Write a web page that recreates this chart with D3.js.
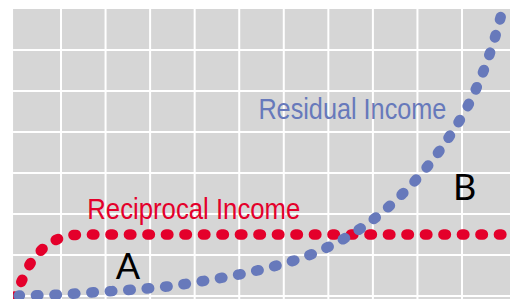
<!DOCTYPE html>
<html>
<head>
<meta charset="utf-8">
<script src="https://cdn.jsdelivr.net/npm/d3@7"></script>
<style>
  html, body { margin: 0; padding: 0; background: #fff; }
  svg { display: block; }
</style>
</head>
<body>
<svg id="chart"></svg>
<script>
// series (x = grid columns, y = grid rows)
const reciprocalX = [-0.05, 0.12, 0.30, 0.56, 0.91, 1.31, 2.0, 11.1];
const reciprocalY = [-0.04, 0.37, 0.77, 1.12, 1.38, 1.49, 1.5, 1.5];

const residualX = [0.05, 0.89, 1.73, 2.56, 3.37, 4.21, 5.02, 5.83, 6.63, 7.37, 8.06, 8.68, 9.24, 9.74, 10.16, 10.49, 10.76, 10.87, 10.93];
const residualY = [0.01, 0.03, 0.09, 0.15, 0.23, 0.37, 0.53, 0.74, 1.02, 1.41, 1.91, 2.51, 3.18, 3.93, 4.70, 5.51, 6.38, 6.81, 7.02];

const xGrid = [1, 2, 3, 4, 5, 6, 7, 8, 9, 10];
const yGrid = [0, 1, 2, 3, 4, 5, 6];

const [w, h] = [510, 299];
const svg = d3.select("#chart").attr("width", w).attr("height", h);

// grid columns are ~44.6px apart, rows 41px
const x = d3.scaleLinear().domain([1, 10]).range([61, 462]);
const y = d3.scaleLinear().domain([0, 7]).range([296, 9]);

const plotLeft = x(-0.076), plotTop = y(7);

svg.append("rect")
  .attr("x", plotLeft).attr("y", plotTop)
  .attr("width", w - plotLeft).attr("height", h - plotTop)
  .attr("fill", "#d6d6d6");

svg.append("g").selectAll("line").data(xGrid).enter().append("line")
  .attr("x1", d => x(d)).attr("x2", d => x(d))
  .attr("y1", plotTop).attr("y2", h)
  .attr("stroke", "#fff").attr("stroke-width", 2);

svg.append("g").selectAll("line").data(yGrid).enter().append("line")
  .attr("x1", plotLeft).attr("x2", w)
  .attr("y1", d => y(d)).attr("y2", d => y(d))
  .attr("stroke", "#fff").attr("stroke-width", 2);

svg.append("clipPath").attr("id", "plot")
  .append("rect").attr("x", plotLeft).attr("y", plotTop).attr("width", w - plotLeft).attr("height", h - plotTop);

const line = d3.line().x(d => x(d[0])).y(d => y(d[1])).curve(d3.curveMonotoneX);

// round dots: short dash + round caps, ~18.5px apart
function dotted(xs, ys, color){
  svg.append("path")
    .datum(xs.map((v, i) => [v, ys[i]]))
    .attr("d", line)
    .attr("clip-path", "url(#plot)")
    .attr("fill", "none")
    .attr("stroke", color)
    .attr("stroke-width", 10.5)
    .attr("stroke-linecap", "round")
    .attr("stroke-dasharray", "2.5 16")
    .attr("stroke-dashoffset", 1.25);
}

const red = "#e4002b", blue = "#6779bb";
dotted(reciprocalX, reciprocalY, red);
dotted(residualX, residualY, blue);

// labels
const narrow = "'Liberation Sans Narrow', 'Arial Narrow', sans-serif";
svg.append("text")
  .attr("x", x(5.43)).attr("y", y(4.31))
  .attr("font-family", narrow).attr("font-size", 30)
  .attr("textLength", 188).attr("lengthAdjust", "spacingAndGlyphs")
  .attr("fill", blue).text("Residual Income");

svg.append("text")
  .attr("x", x(1.59)).attr("y", y(1.88))
  .attr("font-family", narrow).attr("font-size", 30)
  .attr("textLength", 213).attr("lengthAdjust", "spacingAndGlyphs")
  .attr("fill", red).text("Reciprocal Income");

svg.append("text")
  .attr("x", x(2.23)).attr("y", y(0.41))
  .attr("font-family", "Lato, sans-serif").attr("font-size", 36)
  .attr("fill", "#000").text("A");

svg.append("text")
  .attr("x", x(9.8)).attr("y", y(2.35))
  .attr("font-family", "Lato, sans-serif").attr("font-size", 36)
  .attr("fill", "#000").text("B");
</script>
</body>
</html>
